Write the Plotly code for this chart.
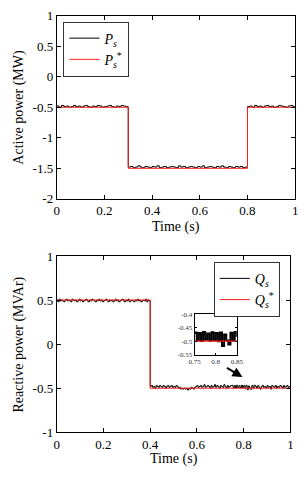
import numpy as np
import plotly.graph_objects as go

# ---------------- data ----------------
# Active power measured (sampled every 0.01 s, t = 0 .. 1)
Ps_meas = [
    # t 0.00 .. 0.30
    -0.49, -0.48, -0.50, -0.47, -0.49, -0.48, -0.50, -0.49, -0.47, -0.49,
    -0.48, -0.50, -0.48, -0.47, -0.49, -0.50, -0.48, -0.49, -0.47, -0.48,
    -0.50, -0.49, -0.48, -0.47, -0.49, -0.50, -0.48, -0.49, -0.47, -0.48,
    -0.49,
    # t 0.31 .. 0.80
    -1.48, -1.47, -1.49, -1.48, -1.46, -1.48, -1.49, -1.47, -1.48, -1.49,
    -1.47, -1.48, -1.46, -1.49, -1.48, -1.47, -1.49, -1.48, -1.47, -1.48,
    -1.49, -1.46, -1.48, -1.47, -1.49, -1.48, -1.47, -1.48, -1.49, -1.47,
    -1.48, -1.46, -1.49, -1.48, -1.47, -1.48, -1.49, -1.47, -1.48, -1.46,
    -1.48, -1.49, -1.47, -1.48, -1.49, -1.47, -1.48, -1.47, -1.49, -1.48,
    # t 0.81 .. 1.00
    -0.49, -0.48, -0.50, -0.47, -0.49, -0.48, -0.50, -0.48, -0.47, -0.49,
    -0.48, -0.50, -0.49, -0.47, -0.48, -0.49, -0.50, -0.48, -0.47, -0.49,
]
Ps_ref_t = [0, 0.3, 0.3, 0.8, 0.8, 1.0]
Ps_ref = [-0.5, -0.5, -1.5, -1.5, -0.5, -0.5]

# Reactive power measured (sampled every 0.005 s, t = 0 .. 1)
Qs_meas = [
    # t 0.000 .. 0.400
    0.49, 0.50, 0.48, 0.51, 0.49, 0.50, 0.49, 0.48, 0.50, 0.51,
    0.49, 0.50, 0.49, 0.48, 0.51, 0.50, 0.49, 0.50, 0.48, 0.49,
    0.51, 0.49, 0.50, 0.48, 0.49, 0.50, 0.51, 0.49, 0.48, 0.50,
    0.49, 0.51, 0.50, 0.49, 0.48, 0.50, 0.49, 0.51, 0.49, 0.50,
    0.48, 0.49, 0.50, 0.51, 0.49, 0.48, 0.50, 0.49, 0.50, 0.48,
    0.49, 0.51, 0.49, 0.50, 0.48, 0.49, 0.50, 0.51, 0.49, 0.48,
    0.50, 0.49, 0.51, 0.48, 0.49, 0.50, 0.49, 0.48, 0.50, 0.49,
    0.51, 0.49, 0.50, 0.48, 0.49, 0.50, 0.49, 0.51, 0.48, 0.50,
    0.49,
    # t 0.405 .. 1.000
    -0.48, -0.47, -0.49, -0.48, -0.50, -0.47, -0.48, -0.49, -0.47, -0.48,
    -0.49, -0.47, -0.48, -0.50, -0.48, -0.47, -0.49, -0.48, -0.47, -0.49,
    -0.48, -0.49, -0.47, -0.48, -0.50, -0.49, -0.51, -0.50, -0.51, -0.50,
    -0.51, -0.50, -0.52, -0.50, -0.51, -0.49, -0.50, -0.51, -0.49, -0.48,
    -0.47, -0.49, -0.48, -0.47, -0.49, -0.48, -0.46, -0.49, -0.48, -0.47,
    -0.48, -0.50, -0.47, -0.49, -0.48, -0.46, -0.49, -0.47, -0.48, -0.50,
    -0.47, -0.48, -0.49, -0.46, -0.48, -0.50, -0.47, -0.49, -0.48, -0.47,
    -0.468, -0.497, -0.470, -0.499, -0.466, -0.495, -0.472, -0.498, -0.467, -0.496,
    -0.470, -0.500, -0.468, -0.518, -0.475, -0.497, -0.512, -0.469, -0.498, -0.466,
    -0.48, -0.50, -0.47, -0.49, -0.51, -0.48, -0.47, -0.49, -0.48, -0.50,
    -0.47, -0.49, -0.48, -0.51, -0.47, -0.48, -0.49, -0.47, -0.50, -0.48,
    -0.49, -0.47, -0.48, -0.50, -0.47, -0.49, -0.48, -0.47, -0.49, -0.48,
]
Qs_ref_t = [0, 0.4, 0.4, 1.0]
Qs_ref = [0.5, 0.5, -0.5, -0.5]

x_ticks = [0, 0.2, 0.4, 0.6, 0.8, 1]
x_tick_text = ["0", "0.2", "0.4", "0.6", "0.8", "1"]
yP_ticks = [-2, -1.5, -1, -0.5, 0, 0.5, 1]
yP_tick_text = ["-2", "-1.5", "-1", "-0.5", "0", "0.5", "1"]
yQ_ticks = [-1, -0.5, 0, 0.5, 1]
yQ_tick_text = ["-1", "-0.5", "0", "0.5", "1"]
inset_x_ticks = [0.75, 0.8, 0.85]
inset_x_text = ["0.75", "0.8", "0.85"]
inset_y_ticks = [-0.55, -0.5, -0.45, -0.4]
inset_y_text = ["-0.55", "-0.5", "-0.45", "-0.4"]

t_P = np.round(np.arange(len(Ps_meas)) * 0.01, 4)
t_Q = np.round(np.arange(len(Qs_meas)) * 0.005, 4)

W, H = 306, 480
FONT = "Liberation Serif, Times New Roman, serif"

def px_x(a, b):
    return [a / W, b / W]

def px_y(top, bottom):
    return [1 - bottom / H, 1 - top / H]

fig = go.Figure()

# top panel
fig.add_trace(go.Scatter(x=t_P, y=Ps_meas, mode="lines", line=dict(color="black", width=1, shape="vh"),
                         name="<i>P</i><sub><i>s</i></sub>", xaxis="x", yaxis="y", legend="legend"))
fig.add_trace(go.Scatter(x=Ps_ref_t, y=Ps_ref, mode="lines", line=dict(color="#ff2020", width=1),
                         name="<i>P</i><sub><i>s</i></sub><sup>*</sup>", xaxis="x", yaxis="y", legend="legend"))
# bottom panel
fig.add_trace(go.Scatter(x=t_Q, y=Qs_meas, mode="lines", line=dict(color="black", width=1, shape="vh"),
                         name="<i>Q</i><sub><i>s</i></sub>", xaxis="x2", yaxis="y2", legend="legend2"))
fig.add_trace(go.Scatter(x=Qs_ref_t, y=Qs_ref, mode="lines", line=dict(color="#ff2020", width=1),
                         name="<i>Q</i><sub><i>s</i></sub><sup>*</sup>", xaxis="x2", yaxis="y2", legend="legend2"))
# inset
fig.add_trace(go.Scatter(x=t_Q, y=Qs_meas, mode="lines", line=dict(color="black", width=2, shape="vh"),
                         showlegend=False, xaxis="x3", yaxis="y3"))
fig.add_trace(go.Scatter(x=Qs_ref_t, y=Qs_ref, mode="lines", line=dict(color="#ff2020", width=1.2),
                         showlegend=False, xaxis="x3", yaxis="y3"))

axis_common = dict(showline=True, linecolor="black", linewidth=1, mirror="ticks",
                   ticks="inside", ticklen=4, tickcolor="black", showgrid=False,
                   zeroline=False, tickfont=dict(family=FONT, size=13, color="black"))
inset_common = dict(showline=True, linecolor="black", linewidth=1, mirror="ticks",
                    ticks="inside", ticklen=2, tickcolor="black", showgrid=False,
                    zeroline=False, tickfont=dict(family=FONT, size=7, color="#333333"))

fig.update_layout(
    width=W, height=H,
    margin=dict(l=0, r=0, t=0, b=0),
    paper_bgcolor="white", plot_bgcolor="white",
    font=dict(family=FONT, color="black"),
    xaxis=dict(domain=px_x(53, 302), range=[0, 1], anchor="y",
               tickvals=x_ticks, ticktext=x_tick_text, **axis_common),
    yaxis=dict(domain=px_y(9, 198), range=[-2, 1], anchor="x",
               tickvals=yP_ticks, ticktext=yP_tick_text, **axis_common),
    xaxis2=dict(domain=px_x(53, 297), range=[0, 1], anchor="y2",
                tickvals=x_ticks, ticktext=x_tick_text, **axis_common),
    yaxis2=dict(domain=px_y(257, 439), range=[-1, 1], anchor="x2",
                tickvals=yQ_ticks, ticktext=yQ_tick_text, **axis_common),
    xaxis3=dict(domain=px_x(197, 241), range=[0.75, 0.85], anchor="y3",
                tickvals=inset_x_ticks, ticktext=inset_x_text, **inset_common),
    yaxis3=dict(domain=px_y(317, 359), range=[-0.55, -0.4], anchor="x3",
                tickvals=inset_y_ticks, ticktext=inset_y_text, **inset_common),
    legend=dict(x=60 / W, y=1 - 15 / H, xanchor="left", yanchor="top",
                bgcolor="white", bordercolor="#333333", borderwidth=1,
                font=dict(family=FONT, size=14, color="black")),
    legend2=dict(x=217 / W, y=1 - 263 / H, xanchor="left", yanchor="top",
                 bgcolor="white", bordercolor="#333333", borderwidth=1,
                 font=dict(family=FONT, size=14, color="black")),
    showlegend=True,
)

title_font = dict(family=FONT, size=14, color="black")
fig.add_annotation(text="Time (s)", xref="paper", yref="paper", x=177.5 / W, y=1 - 227 / H,
                   showarrow=False, font=title_font, xanchor="center", yanchor="middle")
fig.add_annotation(text="Time (s)", xref="paper", yref="paper", x=175 / W, y=1 - 467 / H,
                   showarrow=False, font=title_font, xanchor="center", yanchor="middle")
fig.add_annotation(text="Active power (MW)", xref="paper", yref="paper", x=14 / W, y=1 - 103.5 / H,
                   showarrow=False, font=title_font, textangle=-90, xanchor="center", yanchor="middle")
fig.add_annotation(text="Reactive power (MVAr)", xref="paper", yref="paper", x=14 / W, y=1 - 348 / H,
                   showarrow=False, font=title_font, textangle=-90, xanchor="center", yanchor="middle")
# arrow pointing from inset to the zoomed region
fig.add_annotation(text="", xref="x2", yref="y2", x=0.795, y=-0.374, ax=-17, ay=-10,
                   showarrow=True, arrowhead=2, arrowsize=1, arrowwidth=2, arrowcolor="black")

fig.write_html("out.html",
               config={"displayModeBar": False},
               post_script="document.body.style.margin='0';document.body.style.padding='0';"
                           "document.documentElement.style.overflow='hidden';")
